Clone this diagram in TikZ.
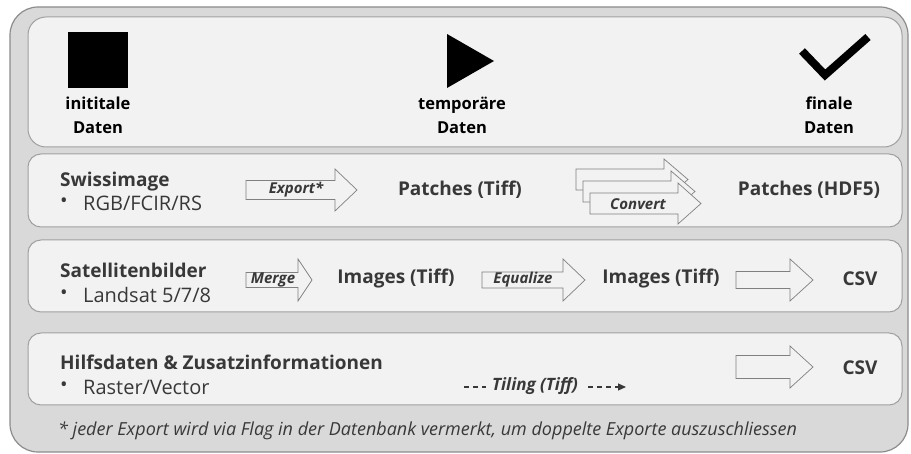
\documentclass[tikz,border=0pt]{standalone}
\usepackage{fontspec}
\setmainfont{Open Sans}
\usetikzlibrary{arrows.meta}
\definecolor{outerfill}{HTML}{D9D9D9}
\definecolor{outerline}{HTML}{8C8C8C}
\definecolor{panelfill}{HTML}{F2F2F2}
\definecolor{panelline}{HTML}{A0A0A0}
\definecolor{arrline}{HTML}{808080}
\definecolor{txt}{HTML}{383838}
\newcommand{\fatarrow}[6]{%
  \filldraw[fatarr] (#1,{#2-#3}) -- (#5,{#2-#3}) -- (#5,{#2-#4}) -- (#6,#2)
    -- (#5,{#2+#4}) -- (#5,{#2+#3}) -- (#1,{#2+#3}) -- cycle;}
\begin{document}
\begin{tikzpicture}[x=1pt,y=-1pt,
  outerbox/.style={fill=outerfill,draw=outerline,line width=1.2pt,rounded corners=28pt},
  panel/.style={fill=panelfill,draw=panelline,line width=1pt,rounded corners=13pt},
  fatarr/.style={fill=panelfill,draw=arrline,line width=0.7pt},
  toplbl/.style={font=\bfseries\fontsize{16.5}{24}\selectfont,text=black,align=center,inner sep=0pt},
  hdr/.style={font=\bfseries\fontsize{19}{22}\selectfont,text=txt,anchor=west,inner sep=0pt},
  item/.style={font=\fontsize{20}{22}\selectfont,text=txt,anchor=west,inner sep=0pt},
  res/.style={font=\bfseries\fontsize{19}{22}\selectfont,text=txt,inner sep=0pt},
  arrlbl/.style={font=\bfseries\itshape\fontsize{15}{18}\selectfont,text=txt,inner sep=0pt},
  note/.style={font=\itshape\fontsize{18}{20}\selectfont,text=txt,anchor=west,inner sep=0pt}
]
\useasboundingbox (0,0) rectangle (911,454);
\draw[outerbox] (10,7) rectangle (908,452);
\draw[panel,rounded corners=18pt] (28,17) rectangle (902,147);
\draw[panel] (28,154) rectangle (902,227);
\draw[panel] (28,240) rectangle (902,312);
\draw[panel] (28,333) rectangle (902,405);

% legend symbols
\fill[black] (68,32) rectangle (128,88);
\fill[black] (447,34) -- (494,61) -- (447,88) -- cycle;
\draw[black,line width=8pt,line join=miter] (802,51) -- (825,75) -- (868,37);
\node[toplbl] (initial) at (98,115) {inititale\\Daten};
\node[toplbl] (temp) at (462,115) {temporäre\\Daten};
\node[toplbl] (final) at (829,115) {finale\\Daten};

% row Swissimage
\node[hdr] (swiss) at (60,182) {Swissimage};
\node[item] (b1) at (60,203) {\textbullet};
\node[item] (rgb) at (83,203) {RGB/FCIR/RS};
\fatarrow{246}{190}{9.5}{21}{335}{357}
\node[arrlbl] (export) at (296,190) {Export*};
\node[res] (ptiff) at (460,190) {Patches (Tiff)};
\fatarrow{576}{179.5}{10.5}{20.5}{664}{688}
\fatarrow{583}{191.5}{10.5}{20.5}{671}{695}
\fatarrow{590}{203.5}{10.5}{20.5}{678}{701}
\node[arrlbl] (convert) at (638,204) {Convert};
\node[res] (phdf) at (809,190) {Patches (HDF5)};

% row Satellitenbilder
\node[hdr] (sat) at (60,270) {Satellitenbilder};
\node[item] (b2) at (60,295) {\textbullet};
\node[item] (landsat) at (83,295) {Landsat 5/7/8};
\fatarrow{246}{280}{7.5}{21}{298}{312}
\node[arrlbl] (merge) at (273,280) {Merge};
\node[res] (img1) at (396,279) {Images (Tiff)};
\fatarrow{482}{280}{8}{21}{563}{585}
\node[arrlbl] (equalize) at (523,280) {Equalize};
\node[res] (img2) at (661,279) {Images (Tiff)};
\fatarrow{736}{280}{8.5}{21}{790}{813}
\node[res] (csv1) at (860,279) {CSV};

% row Hilfsdaten
\node[hdr] (hilf) at (60,362) {Hilfsdaten \& Zusatzinformationen};
\node[item] (b3) at (60,387) {\textbullet};
\node[item] (raster) at (83,387) {Raster/Vector};
\fatarrow{736}{367}{11.5}{21}{790}{813}
\node[res] (csv2) at (860,368) {CSV};
\node[arrlbl,font=\bfseries\itshape\fontsize{17}{20}\selectfont] (tiling) at (535,386) {Tiling (Tiff)};
\coordinate (tl) at (464,387);
\coordinate (tr) at (626,387);
\draw[txt,line width=1.2pt,dash pattern=on 5pt off 4pt] (tl) -- ([xshift=-6pt]tiling.west |- tl);
\draw[txt,line width=1.2pt,dash pattern=on 5pt off 4pt,-{Triangle[length=8pt,width=7pt]}] ([xshift=10pt]tiling.east |- tr) -- (tr);

% footnote
\node[note] (foot) at (58,431) {* jeder Export wird via Flag in der Datenbank vermerkt, um doppelte Exporte auszuschliessen};
\end{tikzpicture}
\end{document}
